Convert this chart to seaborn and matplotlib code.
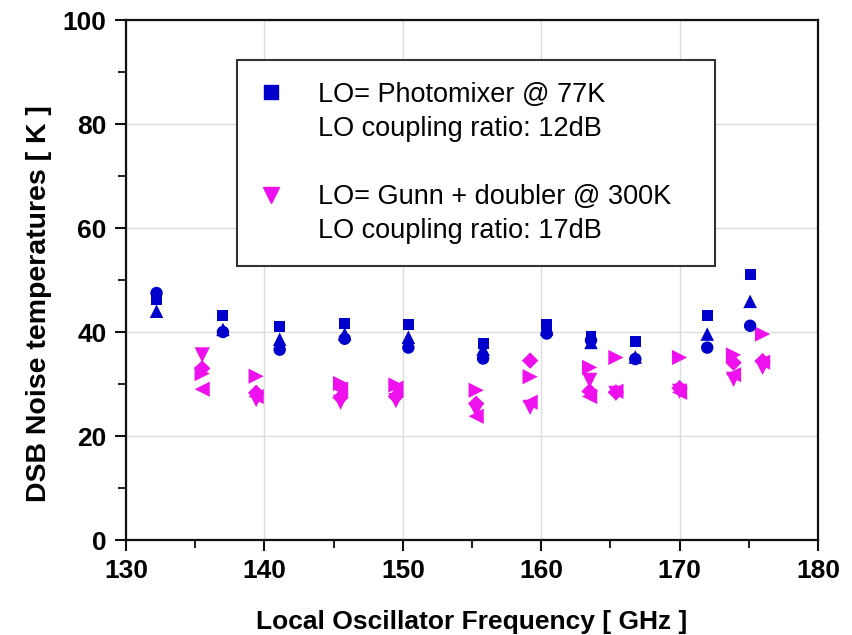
import matplotlib
matplotlib.use('Agg')
import matplotlib.pyplot as plt
from matplotlib.lines import Line2D
from matplotlib.ticker import MultipleLocator
import seaborn as sns
import pandas as pd

# photomixer LO (77K) - one frequency, three measurements each
freq_pm = [132.2, 137.0, 141.1, 145.8, 150.4, 155.8, 160.4, 163.6, 166.8, 172.0, 175.1]
pm_square = [46.3, 43.2, 41.1, 41.7, 41.4, 37.8, 41.5, 39.2, 38.2, 43.2, 51.0]
pm_triangle = [44.0, 40.5, 38.6, 39.6, 39.0, 36.7, 40.6, 38.0, 35.2, 39.6, 45.9]
pm_circle = [47.5, 40.0, 36.6, 38.7, 37.0, 34.9, 39.7, 38.4, 34.8, 37.0, 41.2]

# gunn + doubler LO (300K) - four measurements each
freq_gd = [135.5, 139.4, 145.5, 149.5, 155.3, 159.2, 163.5, 165.4, 170.0, 173.9, 176.0]
gd_down = [35.6, 27.0, 26.5, 26.8, 25.0, 25.5, 30.7, 28.2, 28.6, 30.9, 33.2]
gd_right = [32.0, 31.5, 30.1, 29.8, 28.8, 31.4, 33.2, 35.1, 35.1, 35.6, 39.6]
gd_left = [29.0, 27.6, 29.0, 29.2, 23.8, 26.5, 27.6, 28.6, 28.4, 31.8, 34.2]
gd_diamond = [33.0, 28.3, 27.4, 27.6, 26.2, 34.5, 28.6, 28.4, 29.2, 34.1, 34.4]

labels = ['LO= Photomixer @ 77K', 'LO coupling ratio: 12dB',
          'LO= Gunn + doubler @ 300K', 'LO coupling ratio: 17dB']

blue = '#0000cc'
magenta = '#ee11ee'

sns.set_style('ticks')
plt.rcParams['font.family'] = ['Liberation Sans', 'DejaVu Sans']
plt.rcParams['text.color'] = 'black'
plt.rcParams['axes.labelcolor'] = 'black'


def long_frame(freq, series):
    # series: dict of marker -> values
    rows = []
    for m, vals in series.items():
        for f, v in zip(freq, vals):
            rows.append({'freq': f, 'temp': v, 'shape': m})
    return pd.DataFrame(rows)


df_pm = long_frame(freq_pm, {'s': pm_square, '^': pm_triangle, 'o': pm_circle})
df_gd = long_frame(freq_gd, {'v': gd_down, '>': gd_right, '<': gd_left, 'D': gd_diamond})

fig = plt.figure(figsize=(8.52, 6.35), dpi=100)
ax = fig.add_axes([0.148, 0.1496, 0.812, 0.8189])

# marker sizes per shape (triangles look small otherwise)
sizes_gd = {'v': 120, '>': 120, '<': 120, 'D': 70}
sizes_pm = {'s': 62, '^': 95, 'o': 80}
sns.scatterplot(data=df_gd, x='freq', y='temp', style='shape', size='shape',
                sizes=sizes_gd, markers={'v': 'v', '>': '>', '<': '<', 'D': 'D'},
                color=magenta, linewidth=0, legend=False, ax=ax, zorder=3)
sns.scatterplot(data=df_pm, x='freq', y='temp', style='shape', size='shape',
                sizes=sizes_pm, markers={'s': 's', '^': '^', 'o': 'o'},
                color=blue, linewidth=0, legend=False, ax=ax, zorder=3)

ax.set_xlim(130, 180)
ax.set_ylim(0, 100)
ax.xaxis.set_major_locator(MultipleLocator(10))
ax.xaxis.set_minor_locator(MultipleLocator(5))
ax.yaxis.set_major_locator(MultipleLocator(20))
ax.yaxis.set_minor_locator(MultipleLocator(10))
ax.grid(True, which='major', color='#dddddd', linewidth=1, zorder=0)
ax.set_axisbelow(True)

for sp in ax.spines.values():
    sp.set_linewidth(1.6)
    sp.set_color('#111111')
ax.tick_params(which='major', length=8, width=1.5, direction='out', pad=6,
               labelsize=19, colors='#111111', labelcolor='black')
ax.tick_params(which='minor', length=5.5, width=1.5, direction='out')
for t in ax.get_xticklabels() + ax.get_yticklabels():
    t.set_fontweight('bold')

ax.set_xlabel('Local Oscillator Frequency [ GHz ]', fontsize=19, fontweight='bold', labelpad=19)
ax.set_ylabel('DSB Noise temperatures [ K ]', fontsize=20.5, fontweight='bold')
ax.yaxis.set_label_coords(-0.107, 0.454)

# legend box: marker on first line, second line as blank-handle entry
blank = Line2D([], [], linestyle='none', marker=None)
handles = [
    Line2D([], [], linestyle='none', marker='s', color=blue, markersize=9.5),
    blank, blank,
    Line2D([], [], linestyle='none', marker='v', color=magenta, markersize=12),
    blank,
]
# trailing spaces widen the box like the original
leg_labels = [labels[0], labels[1], ' ', labels[2] + '   ', labels[3]]
leg = ax.legend(handles, leg_labels, loc='upper left', bbox_to_anchor=(0.160, 0.923),
                borderaxespad=0, fontsize=19.5, frameon=True, fancybox=False,
                borderpad=0.8, handlelength=0.9, handletextpad=1.3, labelspacing=0.3)
leg.get_frame().set_edgecolor('#333333')
leg.get_frame().set_linewidth(1.5)
leg.get_frame().set_alpha(1)

fig.savefig('out.png', dpi=100)
